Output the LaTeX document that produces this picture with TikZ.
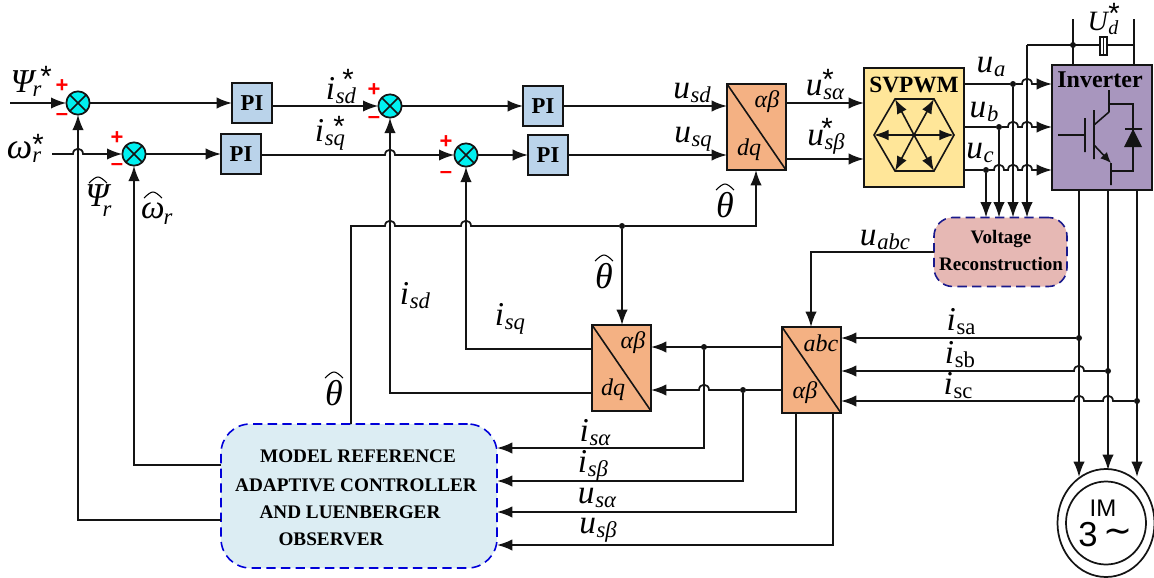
\documentclass[tikz,border=0pt]{standalone}
\usepackage{fontspec}
\setmainfont{Liberation Serif}
\newfontfamily\sansf{Liberation Sans}
\newfontfamily\dejav{DejaVu Sans}
\usetikzlibrary{arrows.meta,calc,shapes.geometric}
\definecolor{orangeb}{HTML}{F4B183}
\definecolor{blueb}{HTML}{BAD3EA}
\definecolor{yellowb}{HTML}{FFE699}
\definecolor{purpleb}{HTML}{A896BE}
\definecolor{pinkb}{HTML}{E6B8B4}
\definecolor{cyanb}{HTML}{DCEDF3}
\definecolor{sumc}{HTML}{00F0F0}
\definecolor{navyd}{HTML}{1A1A8C}
\definecolor{linec}{HTML}{141414}
% symbols with subscript
\newcommand\sv[2]{\mbox{\itshape\fontsize{25}{25}\selectfont #1\kern0.5pt\raisebox{-3pt}{\fontsize{17}{17}\selectfont #2}}}
\newcommand\svs[2]{\mbox{\itshape\fontsize{21}{21}\selectfont #1\kern0.5pt\raisebox{-3pt}{\fontsize{15}{15}\selectfont #2}}}
\newcommand\svu[2]{\mbox{\fontsize{25}{25}\selectfont\itshape #1\kern0.5pt\raisebox{-3pt}{\upshape\fontsize{17}{17}\selectfont #2}}}
\newcommand\gly[2]{\mbox{\itshape\fontsize{#1}{#1}\selectfont #2}}
\newcommand\blk[1]{\mbox{\itshape\fontsize{18}{18}\selectfont #1}}
% circumflex drawn over a label: centre x, top y
\newcommand\hatat[2]{\draw[line width=0.8pt,black] ({#1-9},{#2+6}) .. controls ({#1-5},{#2+2}) and ({#1-2},#2) .. (#1,#2) .. controls ({#1+2},#2) and ({#1+5},{#2+2}) .. ({#1+9},{#2+6});}
% horizontal hops over a vertical line
\newcommand\hopR[2]{-- ({#1-5},#2) .. controls ({#1-5},{#2-7}) and ({#1+5},{#2-7}) .. ({#1+5},#2)}
\newcommand\hopL[2]{-- ({#1+5},#2) .. controls ({#1+5},{#2-7}) and ({#1-5},{#2-7}) .. ({#1-5},#2)}
\tikzset{
  x=0.75pt,y=-0.75pt,
  wire/.style={line width=1.3pt,draw=linec},
  arr/.style={wire,-{Latex[length=11.5pt,width=8.5pt]}},
  boxsize/.style 2 args={minimum width=#1*0.75pt,minimum height=#2*0.75pt},
  pibox/.style={draw=linec,line width=1.4pt,fill=blueb,boxsize={40}{40},inner sep=0pt,outer sep=0pt,font=\bfseries\fontsize{17}{17}\selectfont},
  conv/.style={draw=linec,line width=1.4pt,fill=orangeb,boxsize={59}{86},inner sep=0pt,outer sep=0pt,
     path picture={\draw[line width=1.2pt,linec] (path picture bounding box.north west)--(path picture bounding box.south east);}},
  sumnode/.style={circle,draw=linec,line width=1.3pt,fill=sumc,minimum size=17.5pt,inner sep=0pt,outer sep=0pt,
     path picture={\draw[line width=1.2pt,linec] (path picture bounding box.north west)--(path picture bounding box.south east)
        (path picture bounding box.north east)--(path picture bounding box.south west);}},
  dot/.style={circle,fill=linec,minimum size=4.5pt,inner sep=0pt,outer sep=0pt},
  lab/.style={inner sep=0pt,outer sep=0pt,text=black},
  sign/.style={inner sep=0pt,text=red,font=\sansf\bfseries\fontsize{16.5}{16.5}\selectfont},
  star/.style={inner sep=0pt,font=\sansf\fontsize{22}{22}\selectfont},
  dashbox/.style={draw,line width=1.2pt,dash pattern=on 7pt off 4pt,rounded corners=14pt,inner sep=0pt,outer sep=0pt},
}
\begin{document}
\begin{tikzpicture}
\useasboundingbox (0,0) rectangle (1154,578);
% ---- blocks
\node[sumnode] (s1) at (78,103) {};
\node[sumnode] (s2) at (134,154) {};
\node[sumnode] (s3) at (390,106) {};
\node[sumnode] (s4) at (466,155) {};
\node[pibox] (pi1) at (252,103) {PI};
\node[pibox] (pi2) at (241,154) {PI};
\node[pibox] (pi3) at (543,106) {PI};
\node[pibox] (pi4) at (548,155) {PI};
\node[conv] (c1) at (756.5,127) {};
\node[conv] (c2) at (621.5,368) {};
\node[conv] (c3) at (811.5,370) {};
\node[draw=linec,line width=1.4pt,fill=yellowb,boxsize={100}{119},inner sep=0pt,outer sep=0pt] (svp) at (914,127.5) {};
\node[draw=linec,line width=1.4pt,fill=purpleb,boxsize={100}{125},inner sep=0pt,outer sep=0pt] (inv) at (1102,127.5) {};
\node[dashbox,draw=navyd,fill=pinkb,boxsize={133}{69}] (vr) at (1000.5,252) {};
\node[dashbox,draw=blue!85!black,fill=cyanb,boxsize={276}{144},rounded corners=22pt] (mrac) at (359,496) {};
\node[draw=linec,line width=1.3pt,ellipse,fill=white,boxsize={97}{108},inner sep=0pt,outer sep=0pt] (imo) at (1106,523) {};
\node[draw=linec,line width=1.3pt,ellipse,boxsize={80}{83},inner sep=0pt,outer sep=0pt] (imi) at (1106,523) {};
% ---- block texts
\node[lab,font=\bfseries\fontsize{17.5}{17.5}\selectfont] (tsvp) at (914,85) {SVPWM};
\node[lab,font=\bfseries\fontsize{18}{18}\selectfont] (tinv) at (1100,80) {Inverter};
\node[lab,font=\bfseries\fontsize{14.3}{14.3}\selectfont] (tvr1) at (1001,239) {Voltage};
\node[lab,font=\bfseries\fontsize{14.3}{14.3}\selectfont] (tvr2) at (1001,264) {Reconstruction};
\node[lab,font=\bfseries\fontsize{14.4}{14.4}\selectfont] (tm1) at (358,456) {MODEL REFERENCE};
\node[lab,font=\bfseries\fontsize{14.4}{14.4}\selectfont] (tm2) at (356,485) {ADAPTIVE CONTROLLER};
\node[lab,font=\bfseries\fontsize{14.4}{14.4}\selectfont] (tm3) at (350,512) {AND LUENBERGER};
\node[lab,font=\bfseries\fontsize{14.4}{14.4}\selectfont] (tm4) at (331,539) {OBSERVER};
\node[lab,font=\sansf\fontsize{18}{18}\selectfont] (tim) at (1103,508) {IM};
\node[lab,font=\sansf\fontsize{26}{26}\selectfont] (t3) at (1088,535) {3};
\node[lab,font=\dejav\fontsize{26}{26}\selectfont] (ttil) at (1118,536) {∼};
% conv labels
\node[lab] (c1a) at (767,102) {\blk{αβ}};
\node[lab] (c1b) at (749,150) {\blk{dq}};
\node[lab] (c2a) at (633,343) {\blk{αβ}};
\node[lab] (c2b) at (613,390) {\blk{dq}};
\node[lab] (c3a) at (821,343) {\blk{abc}};
\node[lab] (c3b) at (805,393) {\blk{αβ}};
% ---- hexagon
\coordinate (hc) at (914,135);
\draw[line width=1.2pt,linec] (874,135)--(895,99)--(934,99)--(954,135)--(934,171)--(895,171)--cycle;
\foreach \hx/\hy in {874/135,895/99,934/99,954/135,934/171,895/171}
  \draw[line width=1.2pt,linec,-{Latex[length=11pt,width=8pt]}] (hc)--(\hx,\hy);
% ---- front connectors
\coordinate (psiin) at (10,103);
\coordinate (omin) at (52,154);
\draw[arr] (psiin)--(s1.west);
\draw[arr] (omin) \hopR{78}{154} -- (s2.west);
\draw[arr] (s1.east)--(pi1.west);
\draw[arr] (s2.east)--(pi2.west);
\draw[arr] (pi1.east)--(pi1.east|-s3.west)--(s3.west);
\draw[arr] (pi2.east|-s4.west) \hopR{390}{155} -- (s4.west);
\draw[arr] (s3.east)--(pi3.west);
\draw[arr] (s4.east)--(pi4.west);
\coordinate (c1i1) at (727,106);
\coordinate (c1i2) at (727,155);
\coordinate (c1o1) at (786,103);
\coordinate (c1o2) at (786,159);
\draw[arr] (pi3.east)--(c1i1);
\draw[arr] (pi4.east)--(c1i2);
\draw[arr] (c1o1)--(c1o1-|svp.west);
\draw[arr] (c1o2)--(c1o2-|svp.west);
% theta line
\coordinate (thtl) at (351,226);
\node[dot] (jth) at (622,226) {};
\coordinate (c1bot) at (756,170);
\draw[arr] (mrac.north-|thtl)--(thtl) \hopR{390}{226} \hopR{466}{226} -- (jth) -- (c1bot|-jth) -- (c1bot);
\draw[arr] (jth)--(jth|-c2.north);
% d, q feedback
\coordinate (c2l1) at (592,349);
\coordinate (c2l2) at (592,393);
\draw[arr] (c2l1)--(s4|-c2l1)--(s4.south);
\draw[arr] (c2l2)--(s3|-c2l2)--(s3.south);
% observer feedback
\coordinate (mrl1) at (221,465);
\coordinate (mrl2) at (221,520);
\draw[arr] (mrl1)--(s2|-mrl1)--(s2.south);
\draw[arr] (mrl2)--(s1|-mrl2)--(s1.south);
% abc -> alpha beta
\coordinate (c3l1) at (782,347);
\coordinate (c3l2) at (782,390);
\coordinate (c2r1) at (651,347);
\coordinate (c2r2) at (651,390);
\node[dot] (j1) at (704,347) {};
\node[dot] (j2) at (743,390) {};
\draw[arr] (c3l1)--(c2r1);
\draw[arr] (c3l2)--(j2) \hopL{704}{390} -- (c2r2);
\coordinate (mr1) at (497,448);
\coordinate (mr2) at (497,481);
\coordinate (mr3) at (497,512);
\coordinate (mr4) at (497,545);
\coordinate (c3b1) at (796,413);
\coordinate (c3b2) at (833,413);
\draw[arr] (j1)--(j1|-mr1)--(mr1);
\draw[arr] (j2)--(j2|-mr2)--(mr2);
\draw[arr] (c3b1)--(c3b1|-mr3)--(mr3);
\draw[arr] (c3b2)--(c3b2|-mr4)--(mr4);
% voltage reconstruction
\coordinate (cut) at (811,252);
\draw[arr] (vr.west)--(cut)--(cut|-c3.north);
% SVPWM outputs
\coordinate (oa) at (964,84);
\coordinate (ob) at (964,127);
\coordinate (oc) at (964,170);
\node[dot] (ja) at (1013,84) {};
\node[dot] (jb) at (999,127) {};
\node[dot] (jc) at (986,170) {};
\draw[arr] (oa)--(ja) \hopR{1027}{84} -- (inv.west|-oa);
\draw[arr] (ob)--(jb) \hopR{1013}{127} \hopR{1027}{127} -- (inv.west|-ob);
\draw[arr] (oc)--(jc) \hopR{999}{170} \hopR{1013}{170} \hopR{1027}{170} -- (inv.west|-oc);
\draw[arr] (jc)--(jc|-vr.north);
\draw[arr] (jb)--(jb|-vr.north);
\draw[arr] (ja)--(ja|-vr.north);
% DC bus
\coordinate (busl) at (1027,45);
\coordinate (busr) at (1134,45);
\node[dot] (jbus) at (1073,45) {};
\coordinate (bt1) at (1073,19);
\coordinate (bt2) at (1134,19);
\draw[arr] (busl|-jbus)--(busl|-vr.north);
\draw[wire] (busl)--(busr);
\draw[wire] (bt1)--(bt1|-inv.north);
\draw[wire] (bt2)--(bt2|-inv.north);
\node[draw=linec,line width=1pt,fill=white,boxsize={7}{18},inner sep=0pt] (cap) at (1103.5,46) {};
\draw[line width=1pt,linec] (1103.5,37)--(1103.5,55);
% motor feeds
\coordinate (l1) at (1079,190);
\coordinate (l2) at (1108,190);
\coordinate (l3) at (1137,190);
\draw[arr] (l1)--(1079,477);
\draw[arr] (l2)--(1108,470);
\draw[arr] (l3)--(1137,477);
\node[dot] (ja1) at (1079,338) {};
\node[dot] (ja2) at (1108,371) {};
\node[dot] (ja3) at (1137,401) {};
\draw[arr] (ja1)--(ja1-|c3.east);
\draw[arr] (ja2) \hopL{1079}{371} -- (ja2-|c3.east);
\draw[arr] (ja3) \hopL{1108}{401} \hopL{1079}{401} -- (ja3-|c3.east);
% IGBT
\draw[line width=1.2pt,linec]
  (1058,135)--(1085,135) (1085,118)--(1085,152) (1094,110)--(1094,159)
  (1094,125)--(1109,112) (1109,90)--(1109,112) (1109,104)--(1133,104)--(1133,171)--(1111,171)
  (1111,163)--(1111,185) (1125,129)--(1142,129);
\draw[line width=1.2pt,linec,-{Latex[length=8pt,width=7pt]}] (1094,145)--(1111,163);
\fill[linec] (1124,147)--(1142,147)--(1133,129)--cycle;
% ---- labels
\node[lab] (lpsi) at (26,84) {\mbox{\itshape\fontsize{25}{25}\selectfont Ψ\kern-1pt\raisebox{-3pt}{\fontsize{17}{17}\selectfont r}}};
\node[star] (spsi) at (46,76) {*};
\node[lab] (lom) at (24,152) {\mbox{\itshape\fontsize{27}{27}\selectfont ω\raisebox{-3pt}{\fontsize{17}{17}\selectfont r}}};
\node[star] (som) at (38,144) {*};
\node[lab] (lpsh) at (97,196) {\gly{25}{Ψ}};
\hatat{98}{177}
\node[lab] (lpsr) at (107,211) {\gly{17}{r}};
\node[lab] (lomh) at (153,211) {\gly{25}{ω}};
\hatat{153}{192}
\node[lab] (lomr) at (168,219) {\gly{17}{r}};
\node[lab] (lisd) at (341,91) {\sv{i}{sd}};
\node[star] (ssd) at (348,79) {*};
\node[lab] (lisq) at (330,135) {\sv{i}{sq}};
\node[star] (ssq) at (339,126) {*};
\node[sign] (p1) at (62,86) {+};
\node[sign] (m1) at (62,117) {–};
\node[sign] (p2) at (117,138) {+};
\node[sign] (m2) at (117,167) {–};
\node[sign] (p3) at (374,90) {+};
\node[sign] (m3) at (374,120) {–};
\node[sign] (p4) at (446,142) {+};
\node[sign] (m4) at (446,175) {–};
\node[lab] (lusd) at (692,93) {\sv{u}{sd}};
\node[lab] (lusq) at (693,139) {\sv{u}{sq}};
\node[lab] (lual) at (825,90) {\sv{u}{sα}};
\node[star] (sual) at (828,79) {*};
\node[lab] (lube) at (826,142) {\sv{u}{sβ}};
\node[star] (sube) at (827,128) {*};
\node[lab] (ua) at (991,67) {\sv{u}{a}};
\node[lab] (ub) at (984,112) {\sv{u}{b}};
\node[lab] (uc) at (980,153) {\sv{u}{c}};
\node[lab] (lud) at (1103,23) {\svs{U}{d}};
\node[star] (sud) at (1114,13) {*};
\node[lab] (th1) at (725,205) {\gly{27}{θ}};
\hatat{725}{184}
\node[lab] (th2) at (604,276) {\gly{27}{θ}};
\hatat{604}{255}
\node[lab] (th3) at (334,393) {\gly{27}{θ}};
\hatat{334}{372}
\node[lab] (uabc) at (885,240) {\sv{u}{abc}};
\node[lab] (lid) at (415,296) {\sv{i}{sd}};
\node[lab] (liq) at (510,319) {\sv{i}{sq}};
\node[lab] (lia) at (961,322) {\svu{i}{sa}};
\node[lab] (lib) at (960,355) {\svu{i}{sb}};
\node[lab] (lic) at (958,386) {\svu{i}{sc}};
\node[lab] (lsa) at (595,433) {\sv{i}{sα}};
\node[lab] (lsb) at (593,466) {\sv{i}{sβ}};
\node[lab] (lva) at (597,498) {\sv{u}{sα}};
\node[lab] (lvb) at (598,530) {\sv{u}{sβ}};
\end{tikzpicture}
\end{document}
